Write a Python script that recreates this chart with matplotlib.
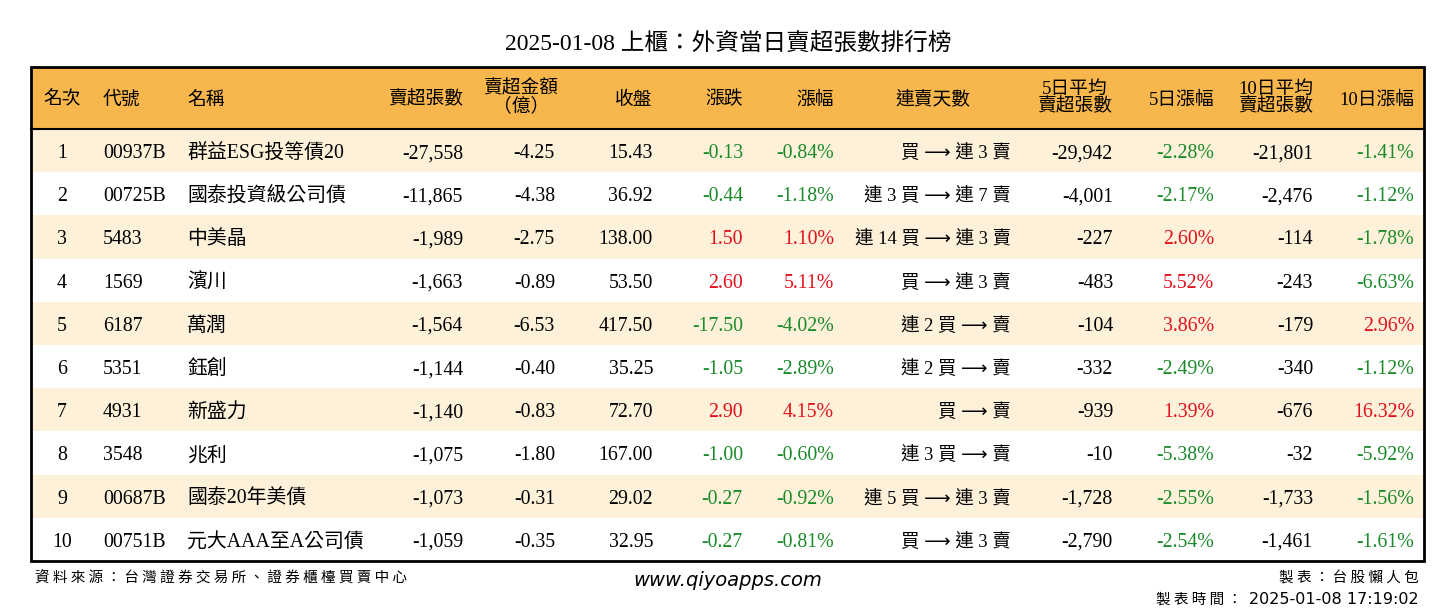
import matplotlib
matplotlib.use("Agg")
import matplotlib.pyplot as plt
from matplotlib.patches import Rectangle

FAM = ['Liberation Serif', 'Noto Sans CJK TC', 'DejaVu Sans']
plt.rcParams['font.family'] = FAM

title = "2025-01-08 上櫃：外資當日賣超張數排行榜"
headers = ["名次", "代號", "名稱", "賣超張數", "賣超金額\n（億）", "收盤", "漲跌", "漲幅",
           "連賣天數", "5日平均\n賣超張數", "5日漲幅", "10日平均\n賣超張數", "10日漲幅"]

ranks = [1, 2, 3, 4, 5, 6, 7, 8, 9, 10]
codes = ["00937B", "00725B", "5483", "1569", "6187", "5351", "4931", "3548", "00687B", "00751B"]
names = ["群益ESG投等債20", "國泰投資級公司債", "中美晶", "濱川", "萬潤", "鈺創", "新盛力", "兆利",
         "國泰20年美債", "元大AAA至A公司債"]
net_sell = [-27558, -11865, -1989, -1663, -1564, -1144, -1140, -1075, -1073, -1059]
amount = [-4.25, -4.38, -2.75, -0.89, -6.53, -0.40, -0.83, -1.80, -0.31, -0.35]
close = [15.43, 36.92, 138.00, 53.50, 417.50, 35.25, 72.70, 167.00, 29.02, 32.95]
change = [-0.13, -0.44, 1.50, 2.60, -17.50, -1.05, 2.90, -1.00, -0.27, -0.27]
pct = [-0.84, -1.18, 1.10, 5.11, -4.02, -2.89, 4.15, -0.60, -0.92, -0.81]
streak = ["買 ⟶ 連 3 賣", "連 3 買 ⟶ 連 7 賣", "連 14 買 ⟶ 連 3 賣", "買 ⟶ 連 3 賣",
          "連 2 買 ⟶ 賣", "連 2 買 ⟶ 賣", "買 ⟶ 賣", "連 3 買 ⟶ 賣", "連 5 買 ⟶ 連 3 賣",
          "買 ⟶ 連 3 賣"]
avg5 = [-29942, -4001, -227, -483, -104, -332, -939, -10, -1728, -2790]
pct5 = [-2.28, -2.17, 2.60, 5.52, 3.86, -2.49, 1.39, -5.38, -2.55, -2.54]
avg10 = [-21801, -2476, -114, -243, -179, -340, -676, -32, -1733, -1461]
pct10 = [-1.41, -1.12, -1.78, -6.63, 2.96, -1.12, 16.32, -5.92, -1.56, -1.61]

source = "資料來源：台灣證券交易所、證券櫃檯買賣中心"
website = "www.qiyoapps.com"
maker = "製表：台股懶人包"
made_label = "製表時間："
made_time = "2025-01-08 17:19:02"

RED = "#E3101C"
GREEN = "#1A8A2A"
HEAD_BG = "#F8B74D"
ODD_BG = "#FDF1DA"

W, H = 1456, 612
fig = plt.figure(figsize=(W / 100, H / 100), dpi=100)
ax = fig.add_axes([0, 0, 1, 1])
ax.set_xlim(0, W)
ax.set_ylim(H, 0)
ax.axis('off')

x0, x1 = 31, 1424
y_head0, y_head1 = 67, 129
y_end = 561
row_h = (y_end - y_head1) / len(ranks)

ax.text(728, 42 + 7.5, title, ha='center', va='baseline', fontsize=17, color='black')

ax.add_patch(Rectangle((x0, y_head0), x1 - x0, y_head1 - y_head0, facecolor=HEAD_BG, edgecolor='none'))
for i in range(len(ranks)):
    y = y_head1 + i * row_h
    fc = ODD_BG if i % 2 == 0 else 'white'
    ax.add_patch(Rectangle((x0, y), x1 - x0, row_h, facecolor=fc, edgecolor='none'))
ax.plot([x0, x1], [y_head1, y_head1], color='black', lw=1.5)
ax.add_patch(Rectangle((x0, y_head0), x1 - x0, y_end - y_head0, facecolor='none', edgecolor='black', lw=2))

# header positions: (x, ha)
head_pos = [(62, 'center'), (103, 'left'), (187, 'left'), (463, 'right'), (521, 'center'),
            (652, 'right'), (743, 'right'), (834, 'right'), (933, 'center'), (1075, 'center'),
            (1214, 'right'), (1276, 'center'), (1414, 'right')]
yh = (y_head0 + y_head1) / 2
for (hx, ha), txt in zip(head_pos, headers):
    if "\n" in txt:
        ax.text(hx, yh, txt, ha=ha, va='center', fontsize=13.5, linespacing=1.0,
                multialignment='center', color='black')
    else:
        ax.text(hx, yh + 6.5, txt, ha=ha, va='baseline', fontsize=13.5, color='black')

col_pos = [(62, 'center'), (103, 'left'), (187, 'left'), (463, 'right'), (555, 'right'),
           (653, 'right'), (743, 'right'), (834, 'right'), (1011, 'right'), (1113, 'right'),
           (1214, 'right'), (1313, 'right'), (1414, 'right')]


def sign_color(v):
    return RED if v > 0 else (GREEN if v < 0 else 'black')


for i in range(len(ranks)):
    yc = y_head1 + (i + 0.5) * row_h
    cells = [
        (str(ranks[i]), 'black'),
        (codes[i], 'black'),
        (names[i], 'black'),
        (f"{net_sell[i]:,}", 'black'),
        (f"{amount[i]:.2f}", 'black'),
        (f"{close[i]:.2f}", 'black'),
        (f"{change[i]:.2f}", sign_color(change[i])),
        (f"{pct[i]:.2f}%", sign_color(pct[i])),
        (streak[i], 'black'),
        (f"{avg5[i]:,}", 'black'),
        (f"{pct5[i]:.2f}%", sign_color(pct5[i])),
        (f"{avg10[i]:,}", 'black'),
        (f"{pct10[i]:.2f}%", sign_color(pct10[i])),
    ]
    for j, ((cx, ha), (txt, col)) in enumerate(zip(col_pos, cells)):
        fs = 13.3 if j == 8 else 14.3
        ax.text(cx, yc + 7.5, txt, ha=ha, va='baseline', fontsize=fs, color=col)


def spaced(s):
    return " ".join(s)


ax.text(35, 583, spaced(source), ha='left', va='baseline', fontsize=10.5,
        family=['Noto Sans CJK TC', 'DejaVu Sans'])
ax.text(728, 586, website, ha='center', va='baseline', fontsize=14, style='italic',
        family=['DejaVu Sans'])
ax.text(1419, 583, spaced(maker), ha='right', va='baseline', fontsize=10.5,
        family=['Noto Sans CJK TC', 'DejaVu Sans'])
ax.text(1419, 604, made_time, ha='right', va='baseline', fontsize=11.5,
        family=['DejaVu Sans'])
ax.text(1245, 604, spaced(made_label) + " ", ha='right', va='baseline', fontsize=10.5,
        family=['Noto Sans CJK TC', 'DejaVu Sans'])

fig.savefig("out.png", dpi=100)
